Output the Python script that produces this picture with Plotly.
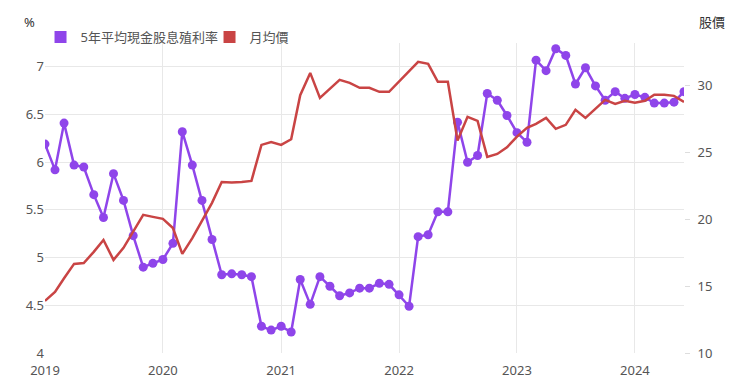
import plotly.graph_objects as go
import pandas as pd

months = pd.date_range("2019-01-01", "2024-06-01", freq="MS")

yield_5y = [
    6.19, 5.92, 6.41, 5.97, 5.95, 5.66, 5.42, 5.88, 5.60, 5.23, 4.90, 4.94,
    4.98, 5.15, 6.32, 5.97, 5.60, 5.19, 4.82, 4.83, 4.82, 4.80, 4.28, 4.24,
    4.28, 4.22, 4.77, 4.51, 4.80, 4.70, 4.60, 4.63, 4.68, 4.68, 4.73, 4.72,
    4.61, 4.49, 5.22, 5.24, 5.48, 5.48, 6.42, 6.00, 6.07, 6.72, 6.65, 6.49,
    6.31, 6.21, 7.07, 6.96, 7.19, 7.12, 6.82, 6.99, 6.80, 6.65, 6.74, 6.67,
    6.71, 6.68, 6.62, 6.62, 6.63, 6.74,
]

price = [
    13.9, 14.57, 15.6, 16.67, 16.74, 17.57, 18.46, 16.97, 17.87, 19.06, 20.34, 20.19,
    20.04, 19.36, 17.42, 18.6, 19.89, 21.24, 22.8, 22.77, 22.8, 22.88, 25.58, 25.8,
    25.58, 26.0, 29.3, 30.97, 29.1, 29.78, 30.45, 30.22, 29.85, 29.85, 29.55, 29.55,
    30.3, 31.12, 31.8, 31.65, 30.3, 30.3, 25.9, 27.68, 27.38, 24.68, 24.9, 25.4,
    26.2, 26.85, 27.15, 27.6, 26.78, 27.08, 28.2, 27.6, 28.28, 28.95, 28.65, 28.88,
    28.73, 28.88, 29.33, 29.33, 29.25, 28.8,
]

series_names = ["5年平均現金股息殖利率", "月均價"]
year_ticks = ["2019", "2020", "2021", "2022", "2023", "2024"]

PURPLE = "#8f45ea"
RED = "#c94444"
GRID = "#e8e8e8"
TXT = "#555555"
FONT = "Noto Sans, Noto Sans CJK TC, sans-serif"

fig = go.Figure()
fig.add_trace(go.Scatter(
    x=months, y=yield_5y, mode="lines+markers", name=series_names[0],
    line=dict(color=PURPLE, width=2.5), marker=dict(color=PURPLE, size=9),
    showlegend=False, yaxis="y",
))
fig.add_trace(go.Scatter(
    x=months, y=price, mode="lines", name=series_names[1],
    line=dict(color=RED, width=2.5), showlegend=False, yaxis="y2",
))
# legend swatches
for nm, c in zip(series_names, [PURPLE, RED]):
    fig.add_trace(go.Scatter(
        x=[None], y=[None], mode="markers", name=nm,
        marker=dict(symbol="square", size=12, color=c), showlegend=True,
    ))

# page body has an 8px default margin, so the figure is offset by 8px
fig.update_layout(
    width=732, height=376,
    margin=dict(l=37, r=56, t=35, b=31, autoexpand=False),
    paper_bgcolor="white", plot_bgcolor="white",
    font=dict(family=FONT, size=13, color=TXT),
    showlegend=True,
    legend=dict(orientation="h", x=-0.007, xanchor="left", y=1.019, yanchor="middle",
                bgcolor="rgba(0,0,0,0)", font=dict(size=13, color=TXT),
                itemsizing="constant", itemwidth=30,
                entrywidth=124, entrywidthmode="pixels"),
    xaxis=dict(
        type="date", automargin=False,
        tickvals=[f"{y}-01-01" for y in year_ticks], ticktext=year_ticks,
        range=["2019-01-01", "2024-06-01"],
        showgrid=True, gridcolor=GRID, gridwidth=1,
        zeroline=False, showline=False, ticks="",
        ticklabelstandoff=8,
        tickfont=dict(size=13, color=TXT),
    ),
    yaxis=dict(
        automargin=False,
        range=[4, 7.25], tickvals=[4, 4.5, 5, 5.5, 6, 6.5, 7],
        ticktext=["4", "4.5", "5", "5.5", "6", "6.5", "7"],
        showgrid=True, gridcolor=GRID, gridwidth=1,
        zeroline=False, showline=False, ticks="",
        tickfont=dict(size=13, color=TXT),
    ),
    yaxis2=dict(
        overlaying="y", side="right", automargin=False,
        range=[10, 10 + 3.25 * 95.33 / 13.35],
        tickvals=[10, 15, 20, 25, 30],
        showgrid=False, zeroline=False, showline=False,
        ticks="outside", ticklen=5, tickcolor="#dddddd",
        ticklabelstandoff=5,
        tickfont=dict(size=13, color=TXT),
    ),
    annotations=[
        dict(text="%", xref="paper", yref="paper", x=-0.012, y=1.068,
             xanchor="right", yanchor="middle", showarrow=False,
             font=dict(size=13, color="#333333")),
        dict(text="股價", xref="paper", yref="paper", x=1.02, y=1.068,
             xanchor="left", yanchor="middle", showarrow=False,
             font=dict(size=13, color="#333333")),
    ],
)

fig.write_html("out.html")
